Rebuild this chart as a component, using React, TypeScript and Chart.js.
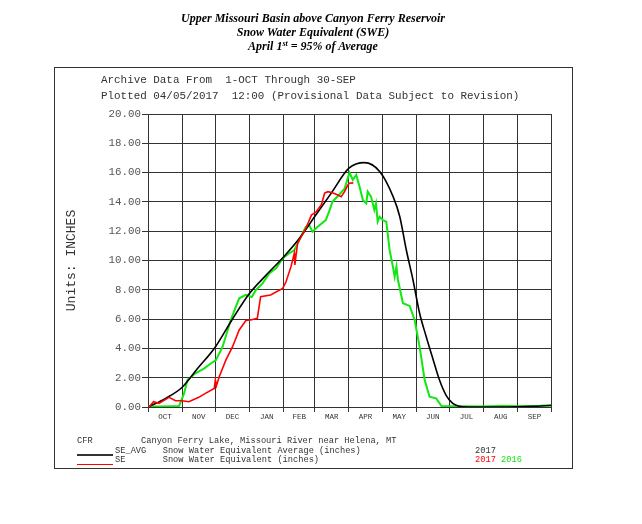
import React, { useEffect, useRef } from "react";
import { Chart, registerables } from "chart.js";

Chart.register(...registerables);

// ---- Data ----
const MONTHS = ["OCT", "NOV", "DEC", "JAN", "FEB", "MAR", "APR", "MAY", "JUN", "JUL", "AUG", "SEP"];
const MONTH_STARTS = [0, 31, 61, 92, 123, 151, 182, 212, 243, 273, 304, 335, 365];
const MONTH_MIDS = MONTHS.map((_, i) => (MONTH_STARTS[i] + MONTH_STARTS[i + 1]) / 2);

// SE_AVG (black) — day of water year, inches
const AVG_DAYS = [0, 16, 31, 45, 61, 76, 92, 107, 123, 137, 151, 166, 182, 196, 210, 222, 228, 234, 240, 246, 252, 258, 264, 270, 276, 281, 290, 320, 350, 365];
const AVG_VALUES = [0, 0.59, 1.35, 2.64, 4.1, 5.94, 7.76, 9.0, 10.26, 11.5, 13.0, 14.6, 16.3, 16.68, 16.06, 14.36, 13.0, 10.7, 8.67, 6.4, 4.8, 3.3, 1.84, 0.8, 0.25, 0.07, 0, 0, 0.05, 0.1];

// SE 2017 (red)
const SE2017_DAYS = [0, 1, 5, 10, 19, 25, 31, 37, 46, 52, 60, 61, 62, 64.5, 70.5, 76.5, 82.6, 88.7, 94, 99, 102, 111, 122, 125, 129.5, 132.5, 133, 135.5, 143, 148, 152, 157, 160, 163, 167, 172, 175, 178, 181, 182.5, 186];
const SE2017_VALUES = [0, 0.0, 0.36, 0.25, 0.66, 0.43, 0.43, 0.36, 0.66, 0.93, 1.27, 1.84, 1.45, 2.07, 3.2, 4.1, 5.26, 5.9, 5.95, 6.05, 7.53, 7.65, 8.1, 8.55, 9.58, 10.5, 9.7, 11.17, 12.2, 13.1, 13.3, 13.8, 14.6, 14.7, 14.63, 14.47, 14.36, 14.7, 15.15, 15.27, 15.3];

// SE 2016 (green)
const SE2016_DAYS = [0, 10, 20, 28, 32.7, 35.7, 43, 51, 55, 61.5, 67.5, 75, 79.6, 82.6, 88.7, 94, 97.8, 103.8, 110, 116, 122, 128, 132.5, 140, 143, 146, 149, 153.7, 161, 164, 167, 172, 178, 182.5, 185.5, 188.6, 191.6, 194.6, 197.7, 199, 202, 205, 206.5, 208, 209.7, 212.7, 215.8, 218.8, 221.8, 223.4, 225, 226.4, 230.9, 237, 241.5, 246, 250.6, 255, 261, 265.8, 280, 300, 320, 340, 355, 365];
const SE2016_VALUES = [0.05, 0.03, 0.05, 0.05, 0.93, 1.84, 2.3, 2.64, 2.87, 3.2, 4.1, 5.94, 6.85, 7.42, 7.65, 7.5, 7.99, 8.44, 9.13, 9.47, 10.15, 10.5, 10.7, 11.86, 12.3, 12.42, 11.97, 12.3, 12.76, 13.33, 14.0, 14.4, 14.9, 16.0, 15.5, 15.84, 15.04, 14.13, 13.9, 14.7, 14.36, 13.45, 13.9, 12.65, 12.99, 12.76, 12.65, 10.72, 9.58, 8.89, 9.58, 8.67, 7.08, 6.9, 5.94, 4.1, 1.84, 0.7, 0.59, 0.07, 0.05, 0.04, 0.06, 0.05, 0.08, 0.12];

const GRID = "#333333";
const MONO = "'Liberation Mono', 'Courier New', monospace";

const toXY = (xs: number[], ys: number[]) => xs.map((x, i) => ({ x, y: ys[i] }));

function Txt(props: { x: number; cy: number; size: number; color?: string; children: React.ReactNode }) {
  const lh = Math.round(props.size * 1.2);
  return (
    <div
      style={{
        position: "absolute",
        left: props.x,
        top: props.cy - lh / 2,
        lineHeight: lh + "px",
        fontSize: props.size,
        fontFamily: MONO,
        color: props.color || "#333",
        whiteSpace: "pre",
      }}
    >
      {props.children}
    </div>
  );
}

export default function App() {
  const ref = useRef<HTMLCanvasElement | null>(null);

  useEffect(() => {
    if (!ref.current) return;
    const chart = new Chart(ref.current, {
      type: "line",
      data: {
        datasets: [
          {
            label: "SE 2017",
            data: toXY(SE2017_DAYS, SE2017_VALUES),
            borderColor: "#ff0000",
            borderWidth: 1.6,
            pointRadius: 0,
            tension: 0,
          },
          {
            label: "SE_AVG",
            data: toXY(AVG_DAYS, AVG_VALUES),
            borderColor: "#000000",
            borderWidth: 1.6,
            pointRadius: 0,
            cubicInterpolationMode: "monotone",
          },
          {
            label: "SE 2016",
            data: toXY(SE2016_DAYS, SE2016_VALUES),
            borderColor: "#10e810",
            borderWidth: 2,
            pointRadius: 0,
            tension: 0,
          },
        ],
      },
      options: {
        animation: false,
        responsive: false,
        maintainAspectRatio: false,
        events: [],
        layout: { padding: { left: 60, top: 114, right: 91, bottom: 0 } },
        plugins: { legend: { display: false }, tooltip: { enabled: false }, title: { display: false } },
        scales: {
          x: {
            type: "linear",
            min: 0,
            max: 365,
            position: "bottom",
            weight: 0,
            afterBuildTicks: (s: any) => {
              s.ticks = MONTH_STARTS.map((v) => ({ value: v }));
            },
            afterFit: (s: any) => {
              s.height = 5;
            },
            ticks: { display: false },
            grid: { color: GRID, lineWidth: 1, tickLength: 5, drawTicks: true },
            border: { display: true, color: GRID, width: 1 },
          },
          x2: {
            type: "linear",
            min: 0,
            max: 365,
            position: "bottom",
            weight: 1,
            afterBuildTicks: (s: any) => {
              s.ticks = MONTH_MIDS.map((v) => ({ value: v }));
            },
            afterFit: (s: any) => {
              s.height = 112;
            },
            ticks: {
              autoSkip: false,
              maxRotation: 0,
              padding: 1,
              color: "#333",
              font: { family: MONO, size: 7.5 },
              callback: (v: any) => {
                const i = MONTH_MIDS.indexOf(Number(v));
                return i >= 0 ? MONTHS[i] : "";
              },
            },
            grid: { display: false, drawTicks: false },
            border: { display: false },
          },
          y: {
            min: 0,
            max: 20,
            position: "left",
            afterFit: (s: any) => {
              s.width = 88;
            },
            ticks: {
              stepSize: 2,
              padding: 1,
              color: "#555",
              font: { family: MONO, size: 10.8 },
              callback: (v: any) => Number(v).toFixed(2),
            },
            grid: { color: GRID, lineWidth: 1, tickLength: 6 },
            border: { color: GRID, width: 1 },
            title: {
              display: true,
              text: "Units: INCHES",
              color: "#333",
              font: { family: MONO, size: 13 },
              padding: { top: 4, bottom: 0 },
            },
          },
        },
      } as any,
    });
    return () => chart.destroy();
  }, []);

  return (
    <div style={{ position: "absolute", left: 0, top: 0, width: 642, height: 524, background: "#fff" }}>
      <canvas ref={ref} width={642} height={524} style={{ position: "absolute", left: 0, top: 0, width: 642, height: 524 }} />
      <div
        style={{
          position: "absolute",
          left: 0,
          top: 11,
          width: 626,
          textAlign: "center",
          fontFamily: "'Liberation Serif', 'Times New Roman', serif",
          fontWeight: "bold",
          fontStyle: "italic",
          fontSize: 12,
          lineHeight: "14.2px",
          color: "#000",
        }}
      >
        <div>Upper Missouri Basin above Canyon Ferry Reservoir</div>
        <div>Snow Water Equivalent (SWE)</div>
        <div>
          April 1<sup style={{ fontSize: 8, lineHeight: 0, verticalAlign: "4px" }}>st</sup> = 95% of Average
        </div>
      </div>
      <div
        style={{
          position: "absolute",
          left: 54,
          top: 67,
          width: 519,
          height: 402,
          boxSizing: "border-box",
          border: "1.5px solid #333",
          pointerEvents: "none",
        }}
      />
      <Txt x={101} cy={80} size={10.9}>Archive Data From  1-OCT Through 30-SEP</Txt>
      <Txt x={101} cy={96.7} size={10.9}>Plotted 04/05/2017  12:00 (Provisional Data Subject to Revision)</Txt>

      <Txt x={77} cy={441} size={8.7}>CFR</Txt>
      <Txt x={141} cy={441} size={8.7}>Canyon Ferry Lake, Missouri River near Helena, MT</Txt>
      <Txt x={115} cy={450.7} size={8.7}>SE_AVG</Txt>
      <Txt x={162.7} cy={450.7} size={8.7}>Snow Water Equivalent Average (inches)</Txt>
      <Txt x={475} cy={450.7} size={8.7}>2017</Txt>
      <Txt x={115} cy={460} size={8.7}>SE</Txt>
      <Txt x={162.7} cy={460} size={8.7}>Snow Water Equivalent (inches)</Txt>
      <Txt x={475} cy={460} size={8.7} color="#ff0000">2017</Txt>
      <Txt x={501} cy={460} size={8.7} color="#10e810">2016</Txt>
      <div style={{ position: "absolute", left: 77, top: 454, width: 36, height: 1.5, background: "#333" }} />
      <div style={{ position: "absolute", left: 77, top: 463.6, width: 36, height: 1.5, background: "#ff0000" }} />
    </div>
  );
}
